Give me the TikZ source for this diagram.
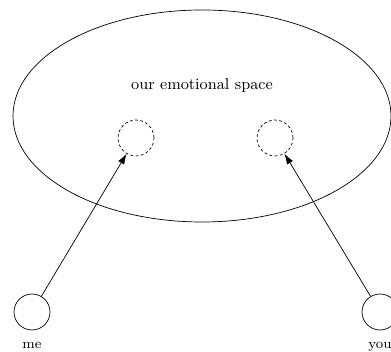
\documentclass[tikz,border=0pt]{standalone}
\usepackage{tikz}
\usetikzlibrary{positioning,arrows.meta}
\tikzset{
  self/.style={circle,draw,thin,minimum size=20.5pt,inner sep=0pt},
  ghost/.style={circle,draw,thin,dashed,dash pattern=on 1.6pt off 1.4pt,minimum size=20.5pt,inner sep=0pt},
  reach/.style={thin,-{Latex[length=6pt,width=4pt]}},
  who/.style={font=\footnotesize},
  every picture/.style={x=0.57pt,y=0.57pt}
}
\begin{document}
\begin{tikzpicture}
      \useasboundingbox (0,0) rectangle (391,352);
      \draw[thin] (202,236) ellipse [x radius=189,y radius=106];
      \node[font=\small] (title) at (202,266) {our emotional space};
      \node[ghost] (gme) at (136,214) {}; \node[ghost] (gyou) at (275,214) {};
      \node[self] (me) at (32,40) {}; \node[self] (you) at (380,40) {};
      \node[who,below=3pt of me] (lme) {me}; \node[who,below=3pt of you] (lyou) {you};
      \draw[reach] (me) -- (gme); \draw[reach] (you) -- (gyou);
    \end{tikzpicture}
\end{document}
